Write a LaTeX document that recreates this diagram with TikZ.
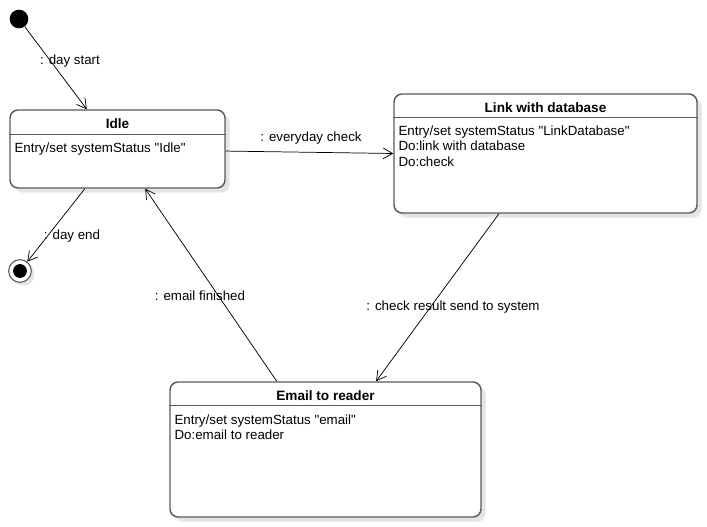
\documentclass[tikz,border=0pt]{standalone}
\usepackage{fontspec}
\setmainfont{Liberation Sans}[Ligatures=TeXOff]
\usetikzlibrary{arrows.meta,calc,shadows}
\definecolor{boxgray}{HTML}{5A5A5A}
\tikzset{
  statebox/.style={draw=boxgray, line width=1.1pt, rounded corners=6pt, fill=white, inner sep=0pt,
    drop shadow={shadow xshift=3.5pt, shadow yshift=-3.5pt, fill=black!10, opacity=1}},
  headline/.style={draw=boxgray, line width=1.1pt},
  titletext/.style={font=\bfseries\fontsize{10.2}{12}\selectfont, inner sep=0pt},
  bodytext/.style={font=\fontsize{10}{11.4}\selectfont, align=left, inner sep=0pt, anchor=north west},
  trans/.style={draw=black, line width=0.55pt, -{Straight Barb[length=7pt,width=8pt]}},
  lbl/.style={font=\fontsize{10}{12}\selectfont, inner sep=0pt},
}
\begin{document}
\begin{tikzpicture}[x=0.75pt,y=-0.75pt]
\useasboundingbox (0,0) rectangle (707,527);
% states
\node[statebox, minimum width=161.25pt, minimum height=58.5pt] (idle) at (117.5,149) {};
\node[statebox, minimum width=227.25pt, minimum height=89.25pt] (link) at (545.5,153.5) {};
\node[statebox, minimum width=233.25pt, minimum height=101.25pt] (email) at (325.5,449.5) {};
% headers
\draw[headline] ($(idle.north west)+(0,25)$) -- ($(idle.north east)+(0,25)$);
\draw[headline] ($(link.north west)+(0,24)$) -- ($(link.north east)+(0,24)$);
\draw[headline] ($(email.north west)+(0,24)$) -- ($(email.north east)+(0,24)$);
\node[titletext] (idleT) at ($(idle.north)+(0,14)$) {Idle};
\node[titletext] (linkT) at ($(link.north)+(0,14.5)$) {Link with database};
\node[titletext] (emailT) at ($(email.north)+(0,14)$) {Email to reader};
\node[bodytext] (idleB) at ($(idle.north west)+(5,33)$) {Entry/set systemStatus "Idle"};
\node[bodytext] (linkB) at ($(link.north west)+(5,32.5)$) {Entry/set systemStatus "LinkDatabase"\\Do:link with database\\Do:check};
\node[bodytext] (emailB) at ($(email.north west)+(5,33.5)$) {Entry/set systemStatus "email"\\Do:email to reader};
% pseudo states
\node[circle, fill=black, minimum size=14pt, inner sep=0pt] (init) at (19,19) {};
\node[circle, draw=boxgray, line width=0.8pt, fill=white, minimum size=17pt, inner sep=0pt,
  drop shadow={shadow xshift=2.5pt, shadow yshift=-2.5pt, fill=black!10, opacity=1}] (fin) at (20,271) {};
\fill[black] (fin.center) circle (5.2pt);
% transitions
\draw[trans] (init) -- ($(idle.north west)!0.358!(idle.north east)$);
\draw[trans] ($(idle.south west)!0.349!(idle.south east)$) -- (fin);
\draw[trans] ($(idle.north east)!0.526!(idle.south east)$) -- ($(link.north west)!0.5!(link.south west)$);
\draw[trans] ($(link.south west)!0.347!(link.south east)$) -- ($(email.north west)!0.662!(email.north east)$);
\draw[trans] ($(email.north west)!0.344!(email.north east)$) -- ($(idle.south west)!0.628!(idle.south east)$);
% labels
\node[lbl] (l1) at (70,61) {: day start};
\node[lbl] (l2) at (72,236) {: day end};
\node[lbl] (l3) at (311,138) {: everyday check};
\node[lbl] (l4) at (453,307) {: check result send to system};
\node[lbl] (l5) at (200,296) {: email finished};
\end{tikzpicture}
\end{document}
